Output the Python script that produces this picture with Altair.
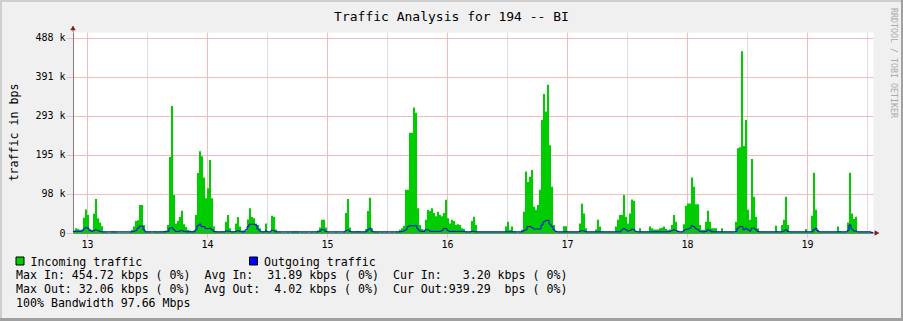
import altair as alt
import pandas as pd

FONT = "DejaVu Sans Mono"
MAJOR = "#f3bcbc"
MINOR = "#dddddd"
AXIS = "#808080"
ARROW = "#8b1a1a"
GREEN = "#00cc00"
BLUE = "#0000ff"

# ---- incoming traffic, kbps, one value per 24-minute sample ----
pre_in = [6, 12, 10, 8, 8, 38, 59]
day13_in = [45, 10, 8, 48, 85, 37, 26, 17, 4, 3,
            2, 2, 4, 4, 3, 2, 2, 2, 2, 2,
            2, 3, 8, 16, 30, 32, 70, 70, 20, 4,
            3, 4, 2, 4, 4, 3, 4, 3, 5, 6,
            20, 190, 318, 95, 24, 30, 40, 56, 22, 15,
            8, 6, 5, 6, 45, 150, 205, 192, 139, 87]
day14_in = [112, 183, 87, 16, 5, 3, 3, 4, 4, 28,
            45, 12, 4, 4, 24, 40, 16, 6, 6, 6,
            34, 62, 40, 37, 24, 20, 12, 4, 4, 24,
            4, 3, 43, 41, 9, 4, 3, 2, 2, 2,
            3, 2, 3, 4, 4, 3, 2, 3, 2, 3,
            2, 2, 3, 2, 3, 6, 14, 33, 33, 14]
day15_in = [3, 2, 2, 2, 3, 2, 2, 2, 3, 50,
            85, 14, 4, 3, 4, 5, 4, 3, 4, 10,
            55, 88, 12, 4, 3, 3, 2, 3, 2, 3,
            2, 2, 3, 2, 3, 4, 8, 12, 18, 108,
            108, 251, 251, 314, 301, 62, 20, 10, 8, 33,
            58, 55, 62, 50, 42, 53, 45, 42, 50, 83]
day16_in = [37, 24, 33, 30, 20, 22, 20, 12, 10, 4,
            3, 4, 30, 41, 20, 4, 3, 3, 3, 3,
            3, 3, 3, 3, 3, 3, 3, 3, 3, 16,
            28, 8, 16, 5, 3, 2, 3, 8, 53, 154,
            128, 141, 158, 66, 58, 70, 108, 283, 348, 304,
            371, 220, 116, 20, 4, 3, 3, 4, 17, 17]
day17_in = [4, 3, 3, 3, 3, 3, 24, 73, 49, 12,
            3, 3, 3, 3, 9, 33, 16, 4, 3, 3,
            3, 3, 3, 3, 16, 33, 45, 45, 95, 41,
            24, 49, 84, 81, 5, 3, 12, 4, 3, 3,
            4, 16, 12, 9, 9, 9, 12, 13, 16, 10,
            7, 9, 20, 45, 28, 6, 3, 3, 22, 68]
day18_in = [74, 74, 139, 116, 72, 72, 20, 8, 8, 28,
            56, 28, 12, 12, 12, 4, 3, 12, 3, 3,
            3, 3, 3, 3, 28, 212, 215, 455, 218, 283,
            58, 33, 185, 91, 41, 12, 4, 3, 3, 3,
            3, 3, 3, 3, 18, 4, 3, 20, 33, 91,
            20, 3, 3, 3, 3, 3, 3, 3, 3, 10]
day19_in = [3, 3, 43, 151, 58, 8, 3, 3, 3, 3,
            3, 3, 3, 3, 3, 16, 5, 3, 3, 3,
            26, 151, 49, 35, 41, 3, 3, 3, 3, 3,
            3, 3, 3]

# ---- outgoing traffic, kbps ----
pre_out = [4, 4, 4, 4, 5, 10, 14]
day13_out = [12, 6, 4, 6, 8, 6, 4, 3, 3, 3,
             3, 3, 3, 3, 3, 3, 3, 3, 3, 3,
             3, 3, 3, 4, 6, 12, 17, 17, 8, 3,
             3, 3, 3, 3, 3, 3, 3, 3, 3, 3,
             4, 12, 14, 8, 4, 4, 5, 6, 4, 3,
             3, 3, 3, 3, 8, 18, 22, 16, 16, 11]
day14_out = [11, 12, 8, 4, 3, 3, 3, 3, 3, 5,
             5, 4, 3, 3, 4, 6, 4, 3, 3, 8,
             16, 22, 22, 22, 20, 10, 5, 3, 3, 5,
             3, 3, 7, 6, 3, 3, 3, 3, 3, 3,
             3, 3, 3, 3, 3, 3, 3, 3, 3, 3,
             3, 3, 3, 3, 3, 3, 5, 9, 8, 4]
day15_out = [3, 3, 3, 3, 3, 3, 3, 3, 3, 6,
             8, 4, 3, 3, 3, 3, 3, 3, 3, 3,
             8, 12, 5, 3, 3, 3, 3, 3, 3, 3,
             3, 3, 3, 3, 3, 3, 3, 4, 5, 8,
             16, 18, 18, 18, 18, 10, 5, 4, 4, 8,
             8, 5, 4, 4, 4, 4, 4, 6, 11, 11]
day16_out = [6, 4, 4, 4, 4, 4, 4, 4, 4, 3,
             3, 3, 4, 4, 3, 3, 3, 3, 3, 3,
             3, 3, 3, 3, 3, 3, 3, 3, 3, 3,
             3, 3, 3, 3, 3, 3, 3, 3, 6, 8,
             16, 16, 14, 10, 10, 10, 10, 20, 28, 31,
             32, 22, 16, 8, 4, 3, 3, 3, 3, 3]
day17_out = [3, 3, 3, 3, 3, 3, 4, 6, 5, 3,
             3, 3, 3, 3, 3, 3, 3, 3, 3, 3,
             3, 3, 3, 3, 3, 3, 3, 8, 11, 8,
             5, 6, 9, 8, 4, 3, 3, 3, 3, 3,
             3, 3, 3, 3, 3, 3, 3, 3, 3, 3,
             3, 4, 6, 8, 6, 4, 3, 3, 6, 9]
day18_out = [10, 12, 18, 16, 11, 8, 4, 3, 3, 4,
             8, 6, 3, 3, 3, 3, 3, 3, 3, 3,
             3, 3, 3, 3, 4, 12, 16, 16, 8, 12,
             8, 5, 12, 12, 8, 4, 3, 3, 3, 3,
             3, 3, 3, 3, 3, 3, 3, 3, 5, 8,
             4, 3, 3, 3, 3, 3, 3, 3, 3, 3]
day19_out = [3, 3, 3, 8, 12, 5, 3, 3, 3, 3,
             3, 3, 3, 3, 3, 3, 3, 3, 3, 3,
             6, 20, 10, 5, 5, 3, 3, 3, 3, 3,
             3, 3, 1]

day_labels = [13, 14, 15, 16, 17, 18, 19]
y_tick_kbps = [0, 97.65625, 195.3125, 292.96875, 390.625, 488.28125]

title_text = "Traffic Analysis for 194 -- BI"
y_title = "traffic in bps"
side_text = "RRDTOOL / TOBI OETIKER"
legend_in = "Incoming traffic"
legend_out = "Outgoing traffic"
stat_rows = [
    "Max In: 454.72 kbps ( 0%)  Avg In:  31.89 kbps ( 0%)  Cur In:   3.20 kbps ( 0%)",
    "Max Out: 32.06 kbps ( 0%)  Avg Out:  4.02 kbps ( 0%)  Cur Out:939.29  bps ( 0%)",
    "100% Bandwidth 97.66 Mbps",
]

incoming = pre_in + day13_in + day14_in + day15_in + day16_in + day17_in + day18_in + day19_in
outgoing = pre_out + day13_out + day14_out + day15_out + day16_out + day17_out + day18_out + day19_out

STEP = 1 / 60.0                      # 24 minutes, in days
T0 = day_labels[0] - len(pre_in) * STEP
n = len(incoming)
times = [T0 + k * STEP for k in range(n + 1)]
df = pd.DataFrame({
    "t": times,
    "inc": incoming + [incoming[-1]],
    "out": outgoing + [outgoing[-1]],
})

x_end = T0 + n * STEP
x_ticks = [d + q / 4 for d in range(day_labels[0], day_labels[-1] + 1) for q in range(4)]
x_ticks = [v for v in x_ticks if v <= x_end]

xscale = alt.Scale(domain=[T0, x_end], nice=False, zero=False)
yscale = alt.Scale(domain=[0, 503.3], nice=False, zero=True)

is_day = "datum.value % 1 == 0"
xaxis = alt.Axis(
    values=x_ticks, title=None,
    labelExpr="datum.value % 1 == 0 ? format(datum.value, 'd') : ''",
    gridColor={"condition": {"test": is_day, "value": MAJOR}, "value": MINOR},
    tickColor={"condition": {"test": is_day, "value": MAJOR}, "value": "transparent"},
    tickSize=4, labelPadding=2, labelFont=FONT, labelFontSize=10, labelColor="#000000",
    domainColor=AXIS, labelOverlap=False, labelFlush=False, labelBound=False,
)
yaxis = alt.Axis(
    values=y_tick_kbps, title=None,
    labelExpr="datum.value == 0 ? '0' : format(datum.value, '.0f') + ' k'",
    gridColor=MAJOR, tickColor=MAJOR, tickSize=7, labelPadding=1,
    labelFont=FONT, labelFontSize=10, labelColor="#000000",
    domainColor=AXIS, labelOverlap=False, labelFlush=False, labelBound=False,
)

base = alt.Chart(df)
area = base.mark_area(interpolate="step-after", color=GREEN, opacity=1, clip=True).encode(
    x=alt.X("t:Q", scale=xscale, axis=xaxis),
    y=alt.Y("inc:Q", scale=yscale, axis=yaxis),
)
line = base.mark_line(interpolate="step-after", color=BLUE, strokeWidth=1, clip=True).encode(
    x=alt.X("t:Q", scale=xscale),
    y=alt.Y("out:Q", scale=yscale),
)

one = pd.DataFrame({"k": [0]})


def text(s, x, y, size=11.6, align="left", angle=0, color="#000000", baseline="alphabetic"):
    s = s.replace(" ", "\u00a0")
    return alt.Chart(one).mark_text(
        text=s, align=align, baseline=baseline, font=FONT, fontSize=size,
        color=color, angle=angle,
    ).encode(x=alt.value(x), y=alt.value(y))


def box(x1, x2, y1, y2, fill, stroke=None):
    kw = dict(color=fill)
    if stroke:
        kw.update(stroke=stroke, strokeWidth=1)
    return alt.Chart(one).mark_rect(**kw).encode(
        x=alt.value(x1), x2=alt.value(x2), y=alt.value(y1), y2=alt.value(y2))


def rule(x1, x2, y1, y2, color):
    return alt.Chart(one).mark_rule(color=color, strokeWidth=1).encode(
        x=alt.value(x1), x2=alt.value(x2), y=alt.value(y1), y2=alt.value(y2))


def arrow(shape, x, y):
    return alt.Chart(one).mark_point(shape=shape, filled=True, size=30, color=ARROW, opacity=1).encode(
        x=alt.value(x), y=alt.value(y))


layers = [
    area, line,
    # axis extensions and arrows
    rule(0, 0, -6, 0, AXIS),
    rule(800, 804, 201, 201, AXIS),
    arrow("triangle-up", 0, -4),
    arrow("triangle-right", 804, 201),
    # frame
    box(-73, 830, -32, -30, "#cfcfcf"),
    box(-73, -71, -32, 289, "#cfcfcf"),
    box(-73, 830, 286, 289, "#a0a0a0"),
    box(828, 830, -32, 289, "#a0a0a0"),
    # texts
    text(title_text, 378.5, -11, size=13, align="center"),
    text(y_title, -58, 100.5, align="center", angle=270, baseline="middle"),
    text(side_text, 819.5, 31, size=8.3, align="center", angle=90, baseline="middle", color="#aaaaaa"),
    box(-57, -49, 225, 233, GREEN, stroke="#000000"),
    text(legend_in, -42.5, 233.5),
    box(176.5, 184.5, 225, 233, BLUE, stroke="#000000"),
    text(legend_out, 191, 233.5),
    text(stat_rows[0], -57, 246.5),
    text(stat_rows[1], -57, 260.5),
    text(stat_rows[2], -57, 274.5),
]

chart = alt.layer(*layers).properties(
    width=800, height=201,
    autosize=alt.AutoSizeParams(type="none"),
    padding={"left": 73, "top": 32, "right": 30, "bottom": 88},
    background="#f0f0f0",
).configure_view(fill="white", stroke="transparent")

chart.save("out.html", embed_options={"renderer": "svg", "actions": False})
